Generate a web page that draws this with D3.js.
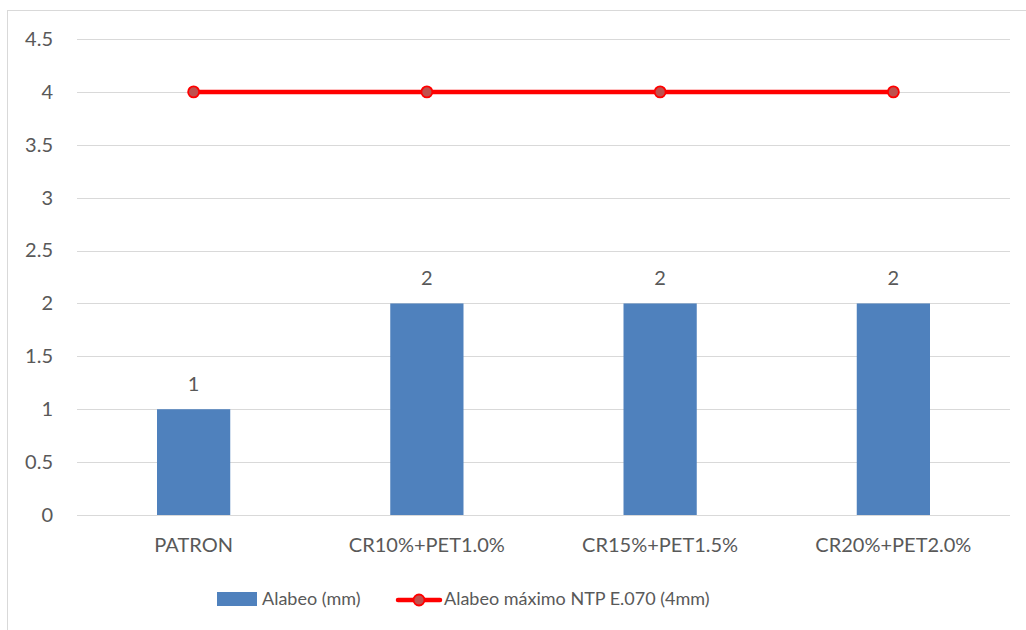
<!DOCTYPE html>
<html>
<head>
<meta charset="utf-8">
<script src="https://cdn.jsdelivr.net/npm/d3@7"></script>
<style>
  html, body { margin: 0; padding: 0; background: #fff; }
  svg { display: block; }
  text { font-family: Lato, "Open Sans", sans-serif; fill: #595959; }
</style>
</head>
<body>
<svg id="chart" width="1026" height="630"></svg>
<script>
// Warping (alabeo) per mix and the NTP E.070 maximum
const categories = ["PATRON", "CR10%+PET1.0%", "CR15%+PET1.5%", "CR20%+PET2.0%"];
const alabeo = [1, 2, 2, 2];
const limite = [4, 4, 4, 4];
const yTicks = [0, 0.5, 1, 1.5, 2, 2.5, 3, 3.5, 4, 4.5];
const seriesNames = ["Alabeo (mm)", "Alabeo máximo NTP E.070 (4mm)"];

const svg = d3.select("#chart");
const W = 1026, H = 630;
const FONT = "Lato, 'Open Sans', sans-serif";

// chart frame
svg.append("rect")
  .attr("x", 7.5).attr("y", 10.5)
  .attr("width", W + 10).attr("height", H)
  .attr("fill", "#fff").attr("stroke", "#d9d9d9").attr("stroke-width", 1);

const plot = { left: 77, right: 1010, top: 39, bottom: 515 };

const x = d3.scaleBand()
  .domain(categories)
  .range([plot.left, plot.right])
  .paddingInner(0.686)
  .paddingOuter(0.343);

const y = d3.scaleLinear().domain([0, 4.5]).range([plot.bottom, plot.top]);

// gridlines
svg.append("g")
  .selectAll("line")
  .data(yTicks)
  .join("line")
  .attr("x1", plot.left).attr("x2", plot.right)
  .attr("y1", d => Math.round(y(d)) + 0.5).attr("y2", d => Math.round(y(d)) + 0.5)
  .attr("stroke", "#d9d9d9").attr("stroke-width", 1);

// y axis labels
const yAxis = d3.axisLeft(y).tickValues(yTicks).tickSize(0).tickPadding(0)
  .tickFormat(d => String(d));
svg.append("g")
  .attr("transform", `translate(${plot.left - 24},0)`)
  .call(yAxis)
  .call(g => g.select(".domain").remove())
  .selectAll("text")
  .style("font-family", FONT)
  .attr("font-size", 20).attr("fill", "#595959");

// x axis labels
const xAxis = d3.axisBottom(x).tickSize(0).tickPadding(0);
svg.append("g")
  .attr("transform", `translate(0,${plot.bottom})`)
  .call(xAxis)
  .call(g => g.select(".domain").remove())
  .selectAll("text")
  .attr("y", 30).attr("dy", "0.35em")
  .style("font-family", FONT)
  .attr("font-size", 20).attr("fill", "#595959");

// bars
svg.append("g")
  .selectAll("rect")
  .data(alabeo)
  .join("rect")
  .attr("x", (d, i) => x(categories[i]))
  .attr("y", d => y(d))
  .attr("width", x.bandwidth())
  .attr("height", d => y(0) - y(d))
  .attr("fill", "#4F81BD");

// bar value labels
svg.append("g")
  .selectAll("text")
  .data(alabeo)
  .join("text")
  .attr("x", (d, i) => x(categories[i]) + x.bandwidth() / 2)
  .attr("y", d => y(d) - 25)
  .attr("dy", "0.35em")
  .attr("text-anchor", "middle")
  .attr("font-size", 20)
  .text(d => d);

// limit line
const cx = (d, i) => x(categories[i]) + x.bandwidth() / 2;
const line = d3.line().x(cx).y(d => y(d));
svg.append("path")
  .datum(limite)
  .attr("d", line)
  .attr("fill", "none")
  .attr("stroke", "#FF0000")
  .attr("stroke-width", 4.5);

svg.append("g")
  .selectAll("circle")
  .data(limite)
  .join("circle")
  .attr("cx", cx)
  .attr("cy", d => y(d))
  .attr("r", 5.5)
  .attr("fill", "#C0504D")
  .attr("stroke", "#FF0000")
  .attr("stroke-width", 1.8);

// legend
const lg = svg.append("g");
const ly = 599;
lg.append("rect")
  .attr("x", 217).attr("y", ly - 7).attr("width", 40).attr("height", 14)
  .attr("fill", "#4F81BD");
lg.append("text")
  .attr("x", 262).attr("y", ly).attr("dy", "0.36em")
  .attr("font-size", 18)
  .text(seriesNames[0]);
lg.append("line")
  .attr("x1", 398).attr("x2", 440).attr("y1", ly + 1).attr("y2", ly + 1)
  .attr("stroke", "#FF0000").attr("stroke-width", 4.5).attr("stroke-linecap", "round");
lg.append("circle")
  .attr("cx", 419).attr("cy", ly + 1).attr("r", 5.5)
  .attr("fill", "#C0504D").attr("stroke", "#FF0000").attr("stroke-width", 1.8);
lg.append("text")
  .attr("x", 444).attr("y", ly).attr("dy", "0.36em")
  .attr("font-size", 18)
  .text(seriesNames[1]);
</script>
</body>
</html>
